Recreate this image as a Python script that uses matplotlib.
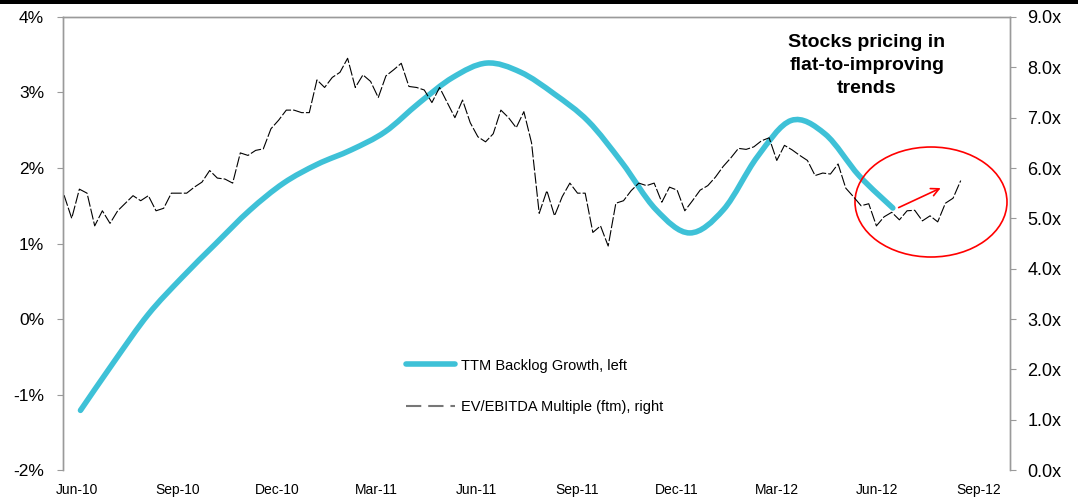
import numpy as np
import pandas as pd
import matplotlib
matplotlib.use('Agg')
import matplotlib.pyplot as plt
import matplotlib.dates as mdates
from matplotlib.lines import Line2D
from matplotlib.patches import Ellipse, PathPatch
from matplotlib.path import Path

plt.rcParams['font.family'] = ['Liberation Sans', 'DejaVu Sans']
plt.rcParams['lines.scale_dashes'] = False

# TTM backlog growth (%), left axis
backlog_start = '2010-06-04'
backlog_end = '2012-06-15'
backlog = [-1.21, -0.56, 0.06, 0.55, 1.0, 1.44, 1.8, 2.05, 2.24, 2.48, 2.86, 3.2, 3.39,
           3.27, 2.98, 2.62, 2.07, 1.45, 1.14, 1.45, 2.15, 2.63, 2.45, 1.9, 1.47]

# EV/EBITDA multiple (ftm), right axis, weekly
ev_start = '2010-05-20'
ev = [5.46, 5.0, 5.58, 5.5, 4.85, 5.15, 4.9, 5.15, 5.3, 5.45,
      5.35, 5.45, 5.15, 5.2, 5.5, 5.5, 5.5, 5.62, 5.72, 5.95,
      5.8, 5.78, 5.7, 6.3, 6.25, 6.35, 6.38, 6.78, 6.95, 7.15,
      7.15, 7.1, 7.1, 7.75, 7.6, 7.8, 7.9, 8.18, 7.6, 7.85,
      7.72, 7.4, 7.83, 7.95, 8.08, 7.62, 7.6, 7.55, 7.3, 7.6,
      7.3, 7.0, 7.35, 6.9, 6.62, 6.52, 6.68, 7.15, 7.0, 6.8,
      7.12, 6.5, 5.1, 5.55, 5.05, 5.43, 5.7, 5.5, 5.5, 4.72,
      4.85, 4.45, 5.3, 5.35, 5.55, 5.7, 5.65, 5.7, 5.32, 5.62,
      5.56, 5.15, 5.35, 5.56, 5.65, 5.82, 6.03, 6.2, 6.39, 6.37,
      6.42, 6.54, 6.6, 6.15, 6.45, 6.36, 6.25, 6.15, 5.85, 5.9,
      5.88, 6.08, 5.6, 5.43, 5.25, 5.29, 4.85, 5.03, 5.12, 4.97,
      5.15, 5.16, 4.95, 5.05, 4.93, 5.3, 5.4, 5.75]

left_ticks = [-2, -1, 0, 1, 2, 3, 4]
right_ticks = [0, 1, 2, 3, 4, 5, 6, 7, 8, 9]

backlog_dates = pd.date_range(backlog_start, backlog_end, periods=len(backlog))
ev_dates = pd.date_range(ev_start, periods=len(ev), freq='7D')

blue = '#3ec1d7'
grey = '#9a9a9a'


def smooth_path(xs, ys):
    # excel style smoothed line: cubic bezier through every point
    p = np.column_stack([xs, ys])
    verts = [p[0]]
    codes = [Path.MOVETO]
    n = len(p)
    for i in range(n - 1):
        p0 = p[max(i - 1, 0)]
        p3 = p[min(i + 2, n - 1)]
        c1 = p[i] + (p[i + 1] - p0) / 6.0
        c2 = p[i + 1] - (p3 - p[i]) / 6.0
        verts += [c1, c2, p[i + 1]]
        codes += [Path.CURVE4] * 3
    return Path(verts, codes)


fig = plt.figure(figsize=(10.78, 4.97), dpi=100)
ax1 = fig.add_axes([0.0584, 0.0543, 0.8785, 0.9115])
ax2 = ax1.twinx()

bx = mdates.date2num(backlog_dates)
ax1.add_patch(PathPatch(smooth_path(bx, np.array(backlog)), fill=False,
                        edgecolor=blue, lw=4, capstyle='round'))
ax2.plot(ev_dates, ev, color='black', lw=0.8, linestyle=(0, (8, 1.5)))

ax1.set_ylim(-2, 4)
ax1.set_yticks(left_ticks)
ax1.set_yticklabels(['%d%%' % t for t in left_ticks])
ax2.set_ylim(0, 9)
ax2.set_yticks(right_ticks)
ax2.set_yticklabels(['%.1fx' % t for t in right_ticks])

ax1.set_xlim(pd.Timestamp('2010-05-19'), pd.Timestamp('2012-09-30'))
ax1.xaxis.set_major_locator(mdates.MonthLocator(bymonth=[3, 6, 9, 12]))
ax1.xaxis.set_major_formatter(mdates.DateFormatter('%b-%y'))

for ax in (ax1, ax2):
    for s in ax.spines.values():
        s.set_color(grey)
        s.set_linewidth(1)
    ax.spines['bottom'].set_visible(False)
ax1.tick_params(axis='y', length=4, color=grey, labelsize=12.5, pad=9.5)
ax2.tick_params(axis='y', length=4, color=grey, labelsize=13, pad=8.5)
ax1.tick_params(axis='x', length=0, labelsize=10, pad=9.5)

# top black bar
fig.add_artist(plt.Rectangle((0, 0.992), 1, 0.008, transform=fig.transFigure,
                             color='black', lw=0))

# legend
handles = [Line2D([], [], color=blue, lw=4, solid_capstyle='round'),
           Line2D([], [], color='#777777', lw=1.5, linestyle=(0, (11, 5)))]
ax2.legend(handles, ['TTM Backlog Growth, left', 'EV/EBITDA Multiple (ftm), right'],
           loc='upper left', bbox_to_anchor=(0.348, 0.275), frameon=False,
           fontsize=10.5, handlelength=3.4, handletextpad=0.4, labelspacing=1.9)

# annotation
ax2.text(0.849, 0.962, 'Stocks pricing in\nflat-to-improving\ntrends', transform=ax2.transAxes,
         ha='center', va='top', fontsize=14, fontweight='bold', linespacing=1.45)
ax2.add_patch(Ellipse((0.9166, 0.5916), 0.1605, 0.2428, transform=ax2.transAxes,
                      fill=False, edgecolor='red', lw=1.2))
ax1.annotate('', xy=(pd.Timestamp('2012-07-31'), 1.75),
             xytext=(pd.Timestamp('2012-06-18'), 1.46),
             arrowprops=dict(arrowstyle='->', color='red', lw=1.2, mutation_scale=14))

fig.savefig('out.png', dpi=100)
